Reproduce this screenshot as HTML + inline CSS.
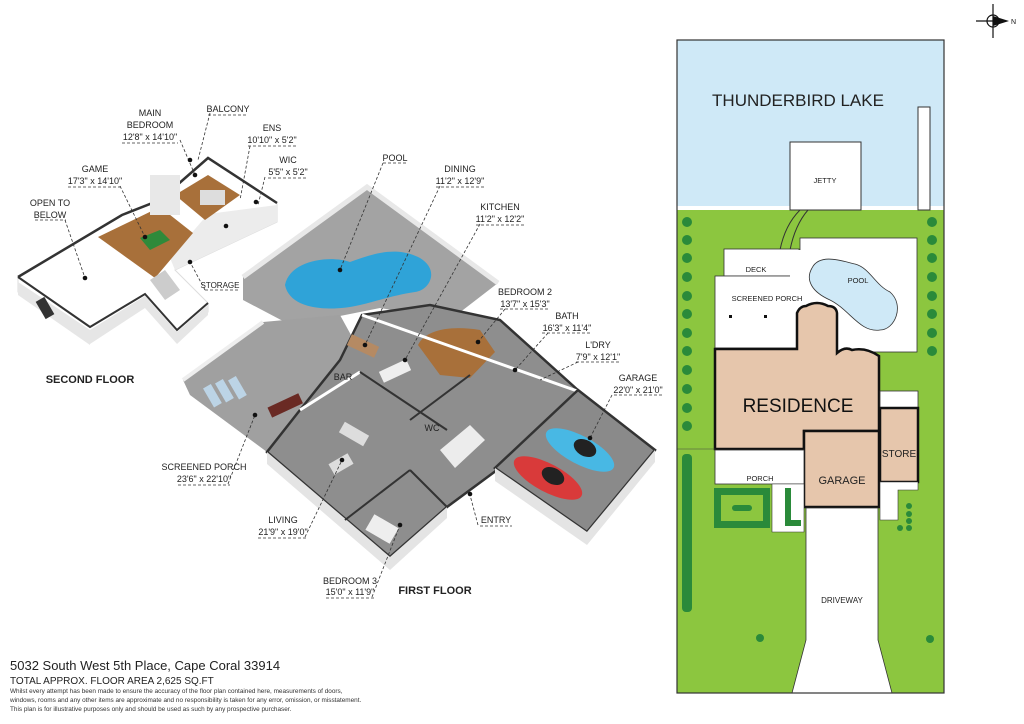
<!DOCTYPE html>
<html><head><meta charset="utf-8"><style>
html,body{margin:0;padding:0;background:#fff;}
svg{display:block;font-family:"Liberation Sans",sans-serif;}
.l{font-size:9px;fill:#222;text-anchor:middle;}
.d{stroke:#333;stroke-width:0.8;stroke-dasharray:3,2;fill:none;}
</style></head><body>
<svg width="1024" height="724" viewBox="0 0 1024 724" xmlns="http://www.w3.org/2000/svg">
<rect width="1024" height="724" fill="#fff"/>

<!-- ===== SECOND FLOOR ===== -->
<polygon points="18,277 122,215 160,200 208,158 277,203 277,222 175,270 208,303 208,312 177,342 145,304 90,340 18,292" fill="#fff" stroke="#ddd" stroke-width="1"/>
<polyline points="18,277 122,215 160,200 208,158 277,203" fill="none" stroke="#333" stroke-width="2.5"/>
<polyline points="18,277 90,327 145,294 177,330 208,303" fill="none" stroke="#333" stroke-width="2"/>
<polygon points="18,282 90,330 90,345 18,295" fill="#e6e6e6"/>
<polygon points="90,330 145,296 145,308 90,344" fill="#e6e6e6"/>
<polygon points="145,296 177,332 177,344 145,308" fill="#e6e6e6"/>
<polygon points="177,332 208,305 208,315 177,344" fill="#e6e6e6"/>
<polygon points="208,214 277,205 277,222 175,270 170,258" fill="#ececec"/>
<polygon points="98,237 160,207 193,233 155,278" fill="#a8703a"/>
<polygon points="175,195 208,175 240,195 205,220" fill="#a8703a"/>
<polygon points="140,238 160,230 170,240 150,250" fill="#2f8a3a"/>
<rect x="150" y="175" width="30" height="40" fill="#e8e8e8"/>
<rect x="200" y="190" width="25" height="15" fill="#ddd"/>
<rect x="40" y="298" width="10" height="20" fill="#333" transform="rotate(-30 45 308)"/>
<polygon points="150,280 165,270 180,290 165,300" fill="#ccc"/>

<!-- ===== FIRST FLOOR ===== -->
<polygon points="243,277 367,187 498,283 450,320 380,308 330,318 300,330 243,300" fill="#a3a3a3"/>
<polyline points="243,277 367,187 498,283" fill="none" stroke="#e8e8e8" stroke-width="5"/>
<path d="M285,285 C290,260 330,255 350,262 C370,255 395,245 420,258 C440,270 430,290 415,292 C395,295 380,300 360,305 C330,312 290,310 285,285Z" fill="#2fa3d8"/>
<polygon points="183,380 263,322 340,315 362,355 335,385 300,435 267,452 190,395" fill="#a0a0a0"/>
<polyline points="183,380 263,322" fill="none" stroke="#eee" stroke-width="4"/>
<polygon points="267,452 390,557 447,507 497,470 580,392 500,320 430,305 362,315 340,360 300,410" fill="#8e8e8e" stroke="#333" stroke-width="2.5"/>
<polygon points="267,452 390,557 390,570 267,464" fill="#e4e4e4"/>
<polygon points="390,557 447,507 447,518 390,570" fill="#e4e4e4"/>
<path d="M418,345 C425,330 450,325 480,330 L495,352 L470,378 L440,375Z" fill="#a8703a"/>
<rect x="348" y="340" width="30" height="12" fill="#b58a63" transform="rotate(25 363 346)"/>
<rect x="380" y="365" width="30" height="12" fill="#eee" transform="rotate(-25 395 371)"/>
<rect x="268" y="400" width="34" height="11" fill="#6a2a24" transform="rotate(-25 285 405)"/>
<g fill="#bcd4e6"><rect x="208" y="385" width="9" height="22" transform="rotate(-30 212 396)"/><rect x="220" y="380" width="9" height="22" transform="rotate(-30 224 391)"/><rect x="233" y="377" width="9" height="22" transform="rotate(-30 237 388)"/></g>
<rect x="340" y="428" width="28" height="12" fill="#ddd" transform="rotate(30 354 434)"/>
<rect x="330" y="458" width="22" height="12" fill="#ddd" transform="rotate(-30 341 464)"/>
<rect x="368" y="520" width="28" height="18" fill="#eee" transform="rotate(30 382 529)"/>
<polygon points="440,450 470,425 485,440 455,468" fill="#ececec"/>
<line x1="362" y1="315" x2="580" y2="392" stroke="#fff" stroke-width="3"/>
<line x1="300" y1="410" x2="360" y2="372" stroke="#fff" stroke-width="3"/>
<line x1="360" y1="372" x2="447" y2="430" stroke="#333" stroke-width="2"/>
<line x1="345" y1="520" x2="410" y2="470" stroke="#333" stroke-width="2"/>
<line x1="410" y1="470" x2="447" y2="507" stroke="#333" stroke-width="2"/>
<line x1="410" y1="420" x2="470" y2="375" stroke="#333" stroke-width="2"/>
<polygon points="578,390 655,450 587,532 495,468" fill="#8a8a8a" stroke="#333" stroke-width="2.5"/>
<polygon points="495,468 587,532 587,545 495,481" fill="#e4e4e4"/>
<polygon points="587,532 655,450 655,462 587,545" fill="#e4e4e4"/>
<ellipse cx="580" cy="450" rx="38" ry="14" fill="#48b8e4" transform="rotate(28 580 450)"/>
<ellipse cx="585" cy="448" rx="12" ry="8" fill="#222" transform="rotate(28 585 448)"/>
<ellipse cx="548" cy="478" rx="38" ry="14" fill="#d93a3a" transform="rotate(28 548 478)"/>
<ellipse cx="553" cy="476" rx="12" ry="8" fill="#222" transform="rotate(28 553 476)"/>

<!-- ===== LABELS ===== -->
<g class="l">
<text x="150" y="116">MAIN</text><text x="150" y="128">BEDROOM</text><text x="150" y="140">12'8" x 14'10"</text>
<text x="228" y="112">BALCONY</text>
<text x="272" y="131">ENS</text><text x="272" y="143">10'10" x 5'2"</text>
<text x="288" y="163">WIC</text><text x="288" y="175">5'5" x 5'2"</text>
<text x="95" y="172">GAME</text><text x="95" y="184">17'3" x 14'10"</text>
<text x="50" y="206">OPEN TO</text><text x="50" y="218">BELOW</text>
<text x="220" y="288" style="font-size:8px">STORAGE</text>
<text x="395" y="161">POOL</text>
<text x="460" y="172">DINING</text><text x="460" y="184">11'2" x 12'9"</text>
<text x="500" y="210">KITCHEN</text><text x="500" y="222">11'2" x 12'2"</text>
<text x="525" y="295">BEDROOM 2</text><text x="525" y="307">13'7" x 15'3"</text>
<text x="567" y="319">BATH</text><text x="567" y="331">16'3" x 11'4"</text>
<text x="598" y="348">L'DRY</text><text x="598" y="360">7'9" x 12'1"</text>
<text x="638" y="381">GARAGE</text><text x="638" y="393">22'0" x 21'0"</text>
<text x="343" y="380">BAR</text>
<text x="432" y="431">WC</text>
<text x="204" y="470">SCREENED PORCH</text><text x="204" y="482">23'6" x 22'10"</text>
<text x="283" y="523">LIVING</text><text x="283" y="535">21'9" x 19'0"</text>
<text x="496" y="523">ENTRY</text>
<text x="350" y="584">BEDROOM 3</text><text x="350" y="595">15'0" x 11'9"</text>
</g>
<text x="90" y="383" style="font-size:11px;font-weight:bold;text-anchor:middle;fill:#222">SECOND FLOOR</text>
<text x="435" y="594" style="font-size:11px;font-weight:bold;text-anchor:middle;fill:#222">FIRST FLOOR</text>
<g class="d">
<path d="M122,143 H178"/><path d="M208,115 H248"/><path d="M248,146 H296"/><path d="M268,178 H306"/>
<path d="M68,187 H122"/><path d="M35,220 H66"/><path d="M205,290 H240"/>
<path d="M383,163 H408"/><path d="M436,187 H484"/><path d="M476,225 H524"/><path d="M500,309 H550"/><path d="M542,333 H592"/><path d="M576,362 H620"/><path d="M614,395 H662"/>
<path d="M178,485 H230"/><path d="M258,538 H306"/><path d="M480,526 H512"/><path d="M326,598 H374"/>
<path d="M180,140 L195,175"/><path d="M210,113 L198,160"/><path d="M250,146 L240,200"/><path d="M265,177 L258,205"/>
<path d="M120,186 L145,237"/><path d="M65,220 L85,278"/><path d="M205,290 L190,262"/>
<path d="M383,163 L340,270"/><path d="M440,186 L365,345"/><path d="M480,224 L405,360"/>
<path d="M505,309 L478,342"/><path d="M548,333 L515,370"/><path d="M578,362 L540,380"/>
<path d="M612,395 L590,438"/><path d="M228,484 L255,415"/><path d="M305,537 L342,460"/><path d="M372,597 L400,525"/><path d="M478,525 L470,495"/>
</g>
<g fill="#111"><circle cx="340" cy="270" r="2.3"/><circle cx="365" cy="345" r="2.3"/><circle cx="405" cy="360" r="2.3"/><circle cx="478" cy="342" r="2.3"/><circle cx="515" cy="370" r="2.3"/><circle cx="590" cy="438" r="2.3"/><circle cx="255" cy="415" r="2.3"/><circle cx="342" cy="460" r="2.3"/><circle cx="400" cy="525" r="2.3"/><circle cx="470" cy="494" r="2.3"/><circle cx="195" cy="175" r="2.3"/><circle cx="190" cy="160" r="2.3"/><circle cx="226" cy="226" r="2.3"/><circle cx="256" cy="202" r="2.3"/><circle cx="145" cy="237" r="2.3"/><circle cx="85" cy="278" r="2.3"/><circle cx="190" cy="262" r="2.3"/></g>

<text x="10" y="670" style="font-size:13px;fill:#222">5032 South West 5th Place, Cape Coral 33914</text>
<text x="10" y="684" style="font-size:10px;fill:#222">TOTAL APPROX. FLOOR AREA 2,625 SQ.FT</text>
<g style="font-size:6.4px;fill:#333">
<text x="10" y="693">Whilst every attempt has been made to ensure the accuracy of the floor plan contained here, measurements of doors,</text>
<text x="10" y="702">windows, rooms and any other items are approximate and no responsibility is taken for any error, omission, or misstatement.</text>
<text x="10" y="711">This plan is for illustrative purposes only and should be used as such by any prospective purchaser.</text>
</g>

<!-- ===== SITE PLAN ===== -->
<rect x="677" y="40" width="267" height="653" fill="#8cc63f"/>
<rect x="677" y="40" width="267" height="168" fill="#cfe9f7"/>
<line x1="677" y1="208" x2="944" y2="208" stroke="#fff" stroke-width="4"/>
<rect x="790" y="142" width="71" height="68" fill="#fff" stroke="#333" stroke-width="1"/>
<rect x="918" y="107" width="12" height="103" fill="#fff" stroke="#333" stroke-width="1"/>
<text x="798" y="106" style="font-size:17px;fill:#222;text-anchor:middle">THUNDERBIRD LAKE</text>
<text x="825" y="183" style="font-size:7.5px;fill:#222;text-anchor:middle">JETTY</text>
<path d="M780,250 Q785,225 800,210 M790,250 Q795,225 808,210" fill="none" stroke="#333" stroke-width="1"/>
<rect x="800" y="238" width="117" height="114" fill="#fff" stroke="#333" stroke-width="0.8"/>
<rect x="724" y="249" width="75" height="27" fill="#fff" stroke="#333" stroke-width="0.8"/>
<rect x="715" y="276" width="85" height="72" fill="#fff" stroke="#333" stroke-width="0.8"/>
<rect x="716" y="277" width="88" height="70" fill="#fff"/>
<rect x="790" y="250" width="15" height="50" fill="#fff"/>
<path d="M812,268 C820,252 845,262 855,264 C870,268 875,285 890,292 C905,305 895,330 880,330 C860,333 850,310 830,300 C812,292 805,280 812,268Z" fill="#cfe9f7" stroke="#333" stroke-width="0.8"/>
<text x="756" y="272" style="font-size:7.5px;fill:#222;text-anchor:middle">DECK</text>
<text x="767" y="301" style="font-size:7.5px;fill:#222;text-anchor:middle">SCREENED PORCH</text>
<text x="858" y="283" style="font-size:7.5px;fill:#222;text-anchor:middle">POOL</text>
<rect x="729" y="315" width="3" height="3" fill="#111"/><rect x="764" y="315" width="3" height="3" fill="#111"/>
<path d="M715,349 H797 V313 Q800,306 806,306 Q817,300 828,306 Q836,306 837,313 V353 Q845,346 852,350 Q866,347 879,356 V431 H804 V449 H715Z" fill="#e6c6ac" stroke="#111" stroke-width="2.5"/>
<text x="798" y="412" style="font-size:19px;fill:#111;text-anchor:middle">RESIDENCE</text>
<rect x="804" y="431" width="75" height="76" fill="#e6c6ac" stroke="#111" stroke-width="2.5"/>
<text x="842" y="484" style="font-size:11px;fill:#222;text-anchor:middle">GARAGE</text>
<rect x="880" y="391" width="38" height="17" fill="#fff" stroke="#333" stroke-width="0.8"/>
<rect x="880" y="408" width="38" height="74" fill="#e6c6ac" stroke="#111" stroke-width="2.5"/>
<text x="899" y="457" style="font-size:10px;fill:#222;text-anchor:middle">STORE</text>
<rect x="715" y="450" width="89" height="34" fill="#fff" stroke="#333" stroke-width="0.8"/>
<text x="760" y="481" style="font-size:7.5px;fill:#222;text-anchor:middle">PORCH</text>
<polygon points="772,484 804,484 804,532 772,532" fill="#fff" stroke="#333" stroke-width="0.6"/>
<polygon points="880,482 918,482 918,490 898,490 898,520 880,520" fill="#fff" stroke="#333" stroke-width="0.6"/>
<polygon points="806,508 878,508 878,640 892,693 792,693 806,640" fill="#fff" stroke="#333" stroke-width="0.8"/>
<text x="842" y="603" style="font-size:8px;fill:#222;text-anchor:middle">DRIVEWAY</text>
<line x1="677" y1="449" x2="715" y2="449" stroke="#444" stroke-width="0.6"/>
<g fill="#2a8a3a">
<circle cx="687" cy="222" r="5"/><circle cx="687" cy="240" r="5"/><circle cx="687" cy="258" r="5"/><circle cx="687" cy="277" r="5"/><circle cx="687" cy="296" r="5"/><circle cx="687" cy="314" r="5"/><circle cx="687" cy="333" r="5"/><circle cx="687" cy="351" r="5"/><circle cx="687" cy="370" r="5"/><circle cx="687" cy="389" r="5"/><circle cx="687" cy="408" r="5"/><circle cx="687" cy="426" r="5"/>
<circle cx="932" cy="222" r="5"/><circle cx="932" cy="240" r="5"/><circle cx="932" cy="258" r="5"/><circle cx="932" cy="277" r="5"/><circle cx="932" cy="296" r="5"/><circle cx="932" cy="314" r="5"/><circle cx="932" cy="333" r="5"/><circle cx="932" cy="351" r="5"/>
<rect x="682" y="454" width="10" height="158" rx="4"/>
<path d="M714,488 H770 V528 H714Z M721,495 V521 H763 V495Z" fill-rule="evenodd"/>
<rect x="732" y="505" width="20" height="6" rx="3"/>
<path d="M785,488 h6 v32 h10 v6 h-16z"/>
<circle cx="909" cy="506" r="3"/><circle cx="909" cy="514" r="3"/><circle cx="909" cy="521" r="3"/><circle cx="909" cy="528" r="3"/><circle cx="900" cy="528" r="3"/>
<circle cx="760" cy="638" r="4"/><circle cx="930" cy="639" r="4"/>
</g>
<rect x="677" y="40" width="267" height="653" fill="none" stroke="#333" stroke-width="1.2"/>

<g stroke="#111" stroke-width="1.2" fill="none">
<line x1="993" y1="4" x2="993" y2="38"/><line x1="976" y1="21" x2="998" y2="21"/><circle cx="993" cy="21" r="6"/>
</g>
<polygon points="993,16 1009,21 993,26" fill="#111"/>
<text x="1011" y="24" style="font-size:7px;fill:#111">N</text>
</svg>
</body></html>
